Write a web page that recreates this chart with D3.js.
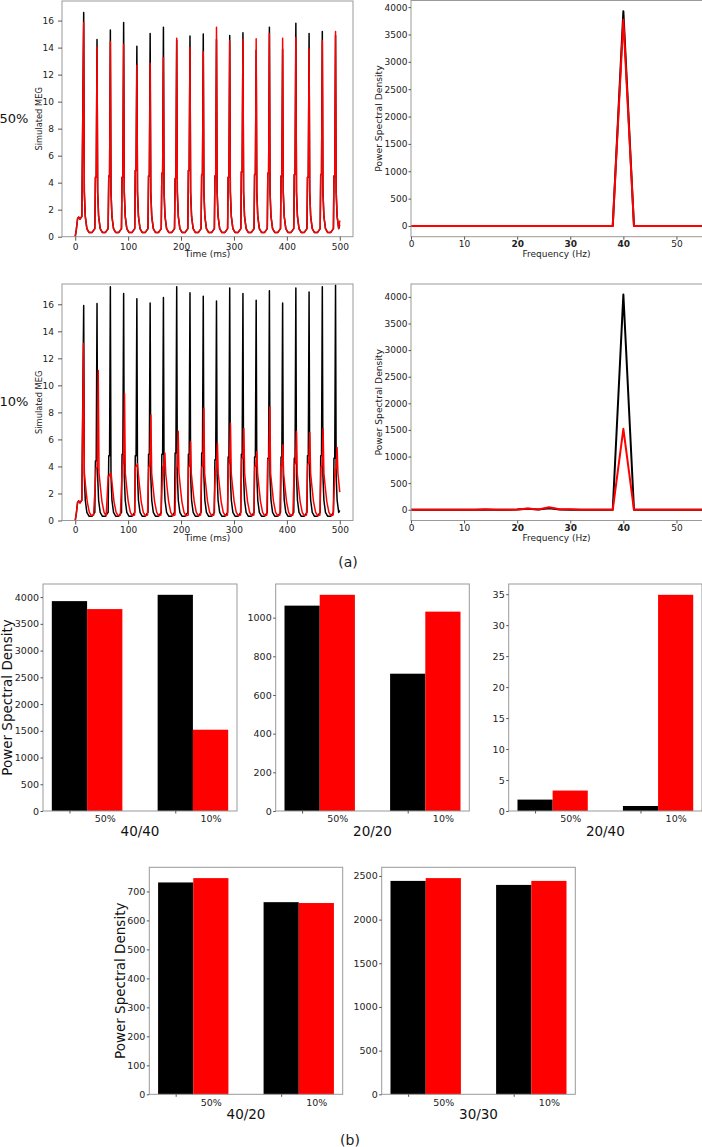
<!DOCTYPE html>
<html><head><meta charset="utf-8">
<script src="https://cdn.jsdelivr.net/npm/d3@7"></script>
<style>body{margin:0;background:#fff}svg{display:block}text{font-family:"DejaVu Sans",sans-serif}</style>
</head><body><svg id="c" width="702" height="1147"></svg>
<script>
// ---------- DATA ----------
const condLabels = ["50%", "10%"];
const megTicksX = [0, 100, 200, 300, 400, 500];
const megTicksY = [0, 2, 4, 6, 8, 10, 12, 14, 16];
const psdTicksX = [0, 10, 20, 30, 40, 50];
const psdBoldTicks = [20, 30, 40];
const psdTicksY = [0, 500, 1000, 1500, 2000, 2500, 3000, 3500, 4000];

// MEG traces: onset, peak times, peak heights, shoulders
const onsetT = [0, 2, 4.5, 6.5, 9, 11, 12.5];
const onsetV = [0, 0.5, 1.35, 1.45, 1.3, 1.42, 1.5];
const peakT = [16, 41.2, 66.4, 91.5, 116.5, 141.6, 166.7, 191.8, 216.9, 242, 267, 292, 317, 342, 367, 392, 417, 442, 467, 492];
const meg50Black = [16.6, 14.6, 15.3, 15.85, 14.1, 15.05, 15.5, 14.55, 14.85, 15.0, 14.6, 14.9, 15.1, 13.8, 15.5, 13.9, 15.8, 15.05, 15.2, 14.9];
const meg50Red = [15.85, 14.05, 14.45, 14.25, 12.7, 12.85, 13.25, 14.7, 14.0, 13.7, 15.5, 14.5, 14.6, 14.65, 15.05, 14.7, 14.75, 13.9, 14.5, 15.2];
const shoulder50 = [1.5, 4.4, 4.5, 4.4, 4.9, 4.5, 4.7, 4.3, 4.9, 4.6, 4.5, 4.4, 4.8, 4.6, 4.7, 4.5, 4.6, 4.4, 4.6, 4.5];
const meg10Black = [15.9, 16.05, 17.3, 16.8, 16.4, 16.1, 16.5, 17.3, 16.85, 16.6, 16.25, 17.2, 16.8, 16.3, 17.0, 16.1, 17.2, 16.9, 17.3, 17.4];
const shoulder10Black = [1.5, 4.4, 4.8, 4.9, 4.8, 4.9, 4.9, 5.0, 4.9, 5.0, 4.5, 4.7, 4.9, 4.7, 4.6, 4.7, 4.6, 4.8, 4.8, 4.6];
const red10T = [15.7, 43.5, 66.3, 93.2, 117.7, 143, 169.5, 194.6, 217.9, 243.1, 268.8, 293.4, 318.7, 343.2, 367.8, 392.4, 418.1, 443.4, 468.5, 495];
const meg10Red = [13.1, 11.1, 3.5, 9.4, 4.2, 7.8, 5.0, 6.6, 5.85, 8.3, 5.7, 7.2, 6.8, 5.1, 8.4, 5.6, 6.6, 6.5, 6.8, 5.4];
const shoulder10Red = [1.5, 3.9, 3.3, 4.2, 4.0, 4.0, 4.0, 3.9, 4.0, 4.0, 3.7, 4.2, 4.6, 4.0, 4.5, 4.0, 4.2, 4.2, 4.0, 3.8];
// waveform key points around each spike (ms offsets, values)
const riseDT = [-3, -1.5];
const decayDT = [1.2, 3, 6, 10, 16, 21];
const decayV = [3.3, 1.5, 0.6, 0.32, 0.32, 0.6];
const riseDTRed = [-4, -2];
const decayDTRed = [1.5, 4, 7, 11, 15, 19];
const decayVRed = [3.5, 2.5, 1.4, 0.6, 0.35, 0.4];
const endV = {b50: 0.9, r50: 1.2, b10: 0.75, r10: 2.1};

// PSD spectra
const freqs = [0, 2, 4, 6, 8, 10, 12, 14, 16, 18, 20, 22, 24, 26, 28, 30, 32, 34, 36, 38, 40, 42, 44, 46, 48, 50, 52, 54, 56];
const psd50Black = [0, 0, 0, 0, 0, 0, 0, 0, 0, 0, 0, 0, 0, 0, 0, 0, 0, 0, 0, 0, 3925, 0, 0, 0, 0, 0, 0, 0, 0];
const psd50Red   = [0, 0, 0, 0, 0, 0, 0, 0, 0, 0, 0, 0, 0, 0, 0, 0, 0, 0, 0, 0, 3775, 0, 0, 0, 0, 0, 0, 0, 0];
const psd10Black = [0, 0, 0, 0, 0, 0, 0, 0, 0, 0, 5, 20, 5, 30, 5, 0, 0, 0, 0, 0, 4045, 0, 0, 0, 0, 0, 0, 0, 0];
const psd10Red   = [0, 0, 0, 0, 0, 0, 0, 8, 0, 0, 5, 25, 5, 45, 8, 10, 0, 0, 0, 0, 1520, 0, 0, 0, 0, 0, 0, 0, 0];

// Bar charts
const barNames = ["40/40", "20/20", "20/40", "40/20", "30/30"];
const barBlack = [[3925, 4043], [1062, 710], [1.84, 0.81], [731, 663], [2443, 2397]];
const barRed = [[3776, 1520], [1118, 1031], [3.3, 34.9], [746, 660], [2475, 2443]];
const barTicks = [
  [0, 500, 1000, 1500, 2000, 2500, 3000, 3500, 4000],
  [0, 200, 400, 600, 800, 1000],
  [0, 5, 10, 15, 20, 25, 30, 35],
  [0, 100, 200, 300, 400, 500, 600, 700],
  [0, 500, 1000, 1500, 2000, 2500]
];

// ---------- BUILD TRACES ----------
function buildTrace(times, peaks, shoulders, rDT, dDT, dV, endVal) {
  const pts = onsetT.map((t, i) => [t, onsetV[i]]);
  peaks.forEach((p, k) => {
    const tp = times[k];
    if (k > 0) rDT.forEach(dt => pts.push([tp + dt, shoulders[k]]));
    pts.push([tp, p]);
    const next = k < times.length - 1 ? times[k + 1] + rDT[0] : 500;
    dDT.forEach((dt, j) => { if (tp + dt < next) pts.push([tp + dt, dV[j]]); });
  });
  const out = pts.filter(d => d[0] < 500);
  out.push([500, endVal]);
  return out;
}
const tr50Black = buildTrace(peakT, meg50Black, shoulder50, riseDT, decayDT, decayV, endV.b50);
const tr50Red = buildTrace(peakT, meg50Red, shoulder50, riseDT, decayDT, decayV, endV.r50);
const tr10Black = buildTrace(peakT, meg10Black, shoulder10Black, riseDT, decayDT, decayV, endV.b10);
const tr10Red = buildTrace(red10T, meg10Red, shoulder10Red, riseDTRed, decayDTRed, decayVRed, endV.r10);

// ---------- DRAW ----------
const svg = d3.select("#c");
svg.append("rect").attr("width", 702).attr("height", 1147).attr("fill", "#fff");
const FRAME = "#999", TXT = "#222", TICK = "#555";
const plain = d => String(d);
let clipId = 0;

function styleAxis(g, fs) {
  g.select(".domain").remove();
  g.attr("font-family", "DejaVu Sans").attr("font-size", fs);
  g.selectAll("text").attr("fill", TXT);
  g.selectAll("line").attr("stroke", TICK);
}

function linePlot(c) {
  const xs = d3.scaleLinear().domain(c.xDomain).range([c.x0, c.x1]);
  const ys = d3.scaleLinear().domain(c.yDomain).range([c.y1, c.y0]);
  const id = "clip" + (clipId++);
  svg.append("clipPath").attr("id", id).append("rect")
    .attr("x", c.x0).attr("y", c.y0).attr("width", c.x1 - c.x0).attr("height", c.y1 - c.y0 + 1);
  const line = d3.line().x(d => xs(d[0])).y(d => ys(d[1]));
  const gl = svg.append("g").attr("clip-path", `url(#${id})`);
  c.series.forEach(s => {
    gl.append("path").datum(s.data).attr("d", line).attr("fill", "none")
      .attr("stroke", s.color).attr("stroke-width", c.lw).attr("stroke-linejoin", "round");
  });
  svg.append("rect").attr("x", c.x0).attr("y", c.y0).attr("width", c.x1 - c.x0).attr("height", c.y1 - c.y0)
    .attr("fill", "none").attr("stroke", FRAME).attr("stroke-width", 1);
  const gx = svg.append("g").attr("transform", `translate(0,${c.y1})`)
    .call(d3.axisBottom(xs).tickValues(c.xTicks).tickFormat(plain).tickSize(c.xts).tickPadding(c.xtp).tickSizeOuter(0));
  styleAxis(gx, 9);
  if (c.bold) gx.selectAll("text").attr("font-weight", d => c.bold.includes(d) ? "bold" : null);
  const gy = svg.append("g").attr("transform", `translate(${c.x0},0)`)
    .call(d3.axisLeft(ys).tickValues(c.yTicks).tickFormat(plain).tickSize(c.yts).tickPadding(c.ytp).tickSizeOuter(0));
  styleAxis(gy, 9);
  svg.append("text").attr("x", (c.x0 + Math.min(c.x1, 702)) / 2).attr("y", c.xlabY)
    .attr("text-anchor", "middle").attr("dominant-baseline", "central")
    .attr("font-size", 9).attr("fill", TXT).text(c.xlabel);
  svg.append("text").attr("transform", `translate(${c.ylabX},${(c.y0 + c.y1) / 2}) rotate(-90)`)
    .attr("text-anchor", "middle").attr("dominant-baseline", "central")
    .attr("font-size", c.ylabFs).attr("fill", TXT).text(c.ylabel);
}

// Row (a) top: 50%
linePlot({x0: 62, x1: 353, y0: 1, y1: 236.7, xDomain: [-25, 525], yDomain: [0, 17.45],
  xTicks: megTicksX, yTicks: megTicksY, xts: 4, xtp: 2.5, yts: 4, ytp: 4, lw: 1.5,
  series: [{data: tr50Black, color: "#000"}, {data: tr50Red, color: "#f00"}],
  xlabel: "Time (ms)", xlabY: 254, ylabel: "Simulated MEG", ylabX: 38.5, ylabFs: 8.3});
linePlot({x0: 411, x1: 703, y0: 0.5, y1: 236.7, xDomain: [0, 55], yDomain: [-196, 4121],
  xTicks: psdTicksX, yTicks: psdTicksY, xts: 3, xtp: 1, yts: 2.5, ytp: 1, lw: 2, bold: psdBoldTicks,
  series: [{data: freqs.map((f, i) => [f, psd50Black[i]]), color: "#000"}, {data: freqs.map((f, i) => [f, psd50Red[i]]), color: "#f00"}],
  xlabel: "Frequency (Hz)", xlabY: 254.3, ylabel: "Power Spectral Density", ylabX: 378.5, ylabFs: 9.2});
// Row (a) middle: 10%
linePlot({x0: 62, x1: 353, y0: 284, y1: 520.5, xDomain: [-25, 525], yDomain: [0, 17.5],
  xTicks: megTicksX, yTicks: megTicksY, xts: 4, xtp: 2.5, yts: 4, ytp: 4, lw: 1.5,
  series: [{data: tr10Black, color: "#000"}, {data: tr10Red, color: "#f00"}],
  xlabel: "Time (ms)", xlabY: 537.5, ylabel: "Simulated MEG", ylabX: 38.5, ylabFs: 8.3});
linePlot({x0: 411, x1: 703, y0: 284, y1: 520.5, xDomain: [0, 55], yDomain: [-202, 4242],
  xTicks: psdTicksX, yTicks: psdTicksY, xts: 3, xtp: 1, yts: 2.5, ytp: 1, lw: 2, bold: psdBoldTicks,
  series: [{data: freqs.map((f, i) => [f, psd10Black[i]]), color: "#000"}, {data: freqs.map((f, i) => [f, psd10Red[i]]), color: "#f00"}],
  xlabel: "Frequency (Hz)", xlabY: 538, ylabel: "Power Spectral Density", ylabX: 378.5, ylabFs: 9.2});

// Row labels
svg.append("text").attr("x", -0.5).attr("y", 118.5).attr("dominant-baseline", "central")
  .attr("font-size", 13).attr("fill", "#111").text(condLabels[0]);
svg.append("text").attr("x", -0.5).attr("y", 401.7).attr("dominant-baseline", "central")
  .attr("font-size", 13).attr("fill", "#111").text(condLabels[1]);

// Bar charts
const barBoxes = [
  {x0: 43, x1: 237, y0: 584, y1: 811, ylab: 7, labY: 831},
  {x0: 275.7, x1: 469.3, y0: 584, y1: 811, ylab: null, labY: 831},
  {x0: 508.7, x1: 702, y0: 584, y1: 811, ylab: null, labY: 831},
  {x0: 149.3, x1: 342.7, y0: 867.3, y1: 1094.3, ylab: 119.5, labY: 1114},
  {x0: 381.7, x1: 575.3, y0: 867.3, y1: 1094.3, ylab: null, labY: 1114}
];
const BW = 1 / 3;
barBoxes.forEach((b, n) => {
  const xs = d3.scaleLinear().domain([-0.25, 1 + BW / 2 + BW + 0.0833]).range([b.x0, b.x1]);
  const maxV = d3.max([...barBlack[n], ...barRed[n]]);
  const ys = d3.scaleLinear().domain([0, maxV * 1.05]).range([b.y1, b.y0]);
  const g = svg.append("g");
  const rows = condLabels.map((c, i) => ({i, c, k: barBlack[n][i], r: barRed[n][i]}));
  g.selectAll("rect.k").data(rows).join("rect").attr("class", "k")
    .attr("x", d => xs(d.i - BW / 2)).attr("width", d => xs(d.i + BW / 2) - xs(d.i - BW / 2))
    .attr("y", d => ys(d.k)).attr("height", d => ys(0) - ys(d.k)).attr("fill", "#000");
  g.selectAll("rect.r").data(rows).join("rect").attr("class", "r")
    .attr("x", d => xs(d.i + BW / 2)).attr("width", d => xs(d.i + BW * 1.5) - xs(d.i + BW / 2))
    .attr("y", d => ys(d.r)).attr("height", d => ys(0) - ys(d.r)).attr("fill", "#f00");
  svg.append("rect").attr("x", b.x0).attr("y", b.y0).attr("width", b.x1 - b.x0).attr("height", b.y1 - b.y0)
    .attr("fill", "none").attr("stroke", FRAME).attr("stroke-width", 1);
  const gy = svg.append("g").attr("transform", `translate(${b.x0},0)`)
    .call(d3.axisLeft(ys).tickValues(barTicks[n]).tickFormat(plain).tickSize(2.5).tickPadding(1.5).tickSizeOuter(0));
  styleAxis(gy, 9.5);
  const gt = svg.append("g").attr("transform", `translate(0,${b.y1})`)
    .call(d3.axisBottom(xs).tickValues([0, 1]).tickFormat("").tickSize(2.5).tickSizeOuter(0));
  styleAxis(gt, 9.5);
  const gl = svg.append("g").attr("transform", `translate(0,${b.y1})`)
    .call(d3.axisBottom(xs).tickValues([BW, 1 + BW]).tickFormat((d, i) => condLabels[i]).tickSize(0).tickPadding(4.5).tickSizeOuter(0));
  styleAxis(gl, 9.5);
  gl.selectAll("line").remove();
  svg.append("text").attr("x", (b.x0 + b.x1) / 2).attr("y", b.labY).attr("text-anchor", "middle")
    .attr("dominant-baseline", "central").attr("font-size", 13.5).attr("fill", "#111").text(barNames[n]);
  if (b.ylab !== null) {
    svg.append("text").attr("transform", `translate(${b.ylab},${(b.y0 + b.y1) / 2}) rotate(-90)`)
      .attr("text-anchor", "middle").attr("dominant-baseline", "central")
      .attr("font-size", 13.5).attr("fill", "#111").text("Power Spectral Density");
  }
});

// Panel captions
svg.append("text").attr("x", 348).attr("y", 562).attr("text-anchor", "middle").attr("dominant-baseline", "central")
  .attr("font-family", "DejaVu Serif").attr("font-size", 14).attr("fill", "#222").text("(a)");
svg.append("text").attr("x", 350).attr("y", 1140).attr("text-anchor", "middle").attr("dominant-baseline", "central")
  .attr("font-family", "DejaVu Serif").attr("font-size", 14).attr("fill", "#222").text("(b)");
</script></body></html>
